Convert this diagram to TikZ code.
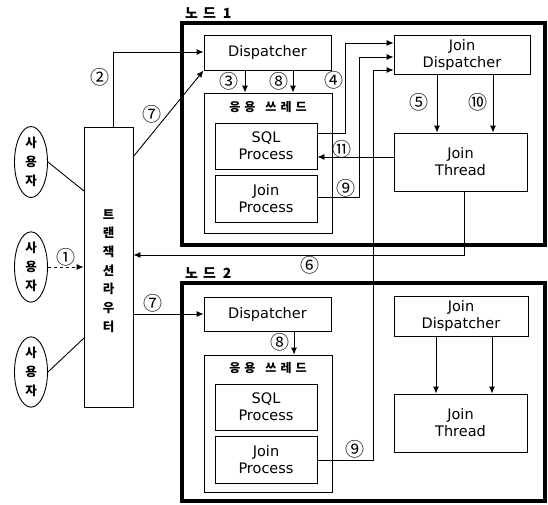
\documentclass[tikz,border=0pt]{standalone}
\usepackage{fontspec}
\setmainfont{DejaVu Sans}
\newfontfamily\kr{Noto Sans CJK KR}
\usetikzlibrary{arrows.meta,shapes.geometric,calc}
\begin{document}
\begin{tikzpicture}[x=1pt,y=-1pt,
 box/.style={draw,line width=0.9pt,rectangle,inner sep=0pt,align=center,font=\fontsize{14.5}{17}\selectfont},
 frame/.style={draw,line width=4pt,inner sep=0pt},
 user/.style={draw,ellipse,line width=0.9pt,inner sep=0pt,align=center,minimum width=33pt,font=\kr\bfseries\fontsize{12.5}{19}\selectfont},
 num/.style={font=\kr\fontsize{19}{19}\selectfont,inner sep=0pt},
 conn/.style={line width=0.9pt},
 arr/.style={conn,-{Latex[length=7pt,width=6pt]}},
 lbl/.style={font=\kr\bfseries\fontsize{14}{14}\selectfont,anchor=west,inner sep=0pt},
 kor/.style={font=\kr\bfseries\fontsize{12}{12}\selectfont,inner sep=0pt}]
\useasboundingbox (0,0) rectangle (548,504);

% frames
\node[frame,minimum width=363pt,minimum height=222pt] (n1) at (363.5,134) {};
\node[frame,minimum width=363pt,minimum height=218pt] (n2) at (363.5,392) {};
\node[lbl] (n1l) at (185,13) {노\hspace{5pt}드\hspace{7pt}1};
\node[lbl] (n2l) at (185,273) {노\hspace{5pt}드\hspace{7pt}2};

% users and router
\node[user,minimum height=71pt] (u1) at (31,162) {사\\용\\자};
\node[user,minimum height=67pt] (u2) at (31,267) {사\\용\\자};
\node[user,minimum height=70pt] (u3) at (31,372) {사\\용\\자};
\node[draw,line width=0.9pt,minimum width=49pt,minimum height=280pt,inner sep=0pt] (rt) at (108.5,267) {};
\node[align=center,inner sep=0pt,font=\kr\bfseries\fontsize{12.5}{18.7}\selectfont] (rtt) at (108.5,271) {트\\랜\\잭\\션\\라\\우\\터};

% node 1
\node[box,minimum width=127pt,minimum height=35pt] (d1) at (267.5,52.5) {Dispatcher};
\node[draw,line width=0.9pt,inner sep=0pt,minimum width=128pt,minimum height=140pt] (a1) at (268,163) {};
\node[kor] (a1l) at (268,107) {응\hspace{4pt}용\hspace{10pt}쓰\hspace{4pt}레\hspace{4pt}드};
\node[box,minimum width=102pt,minimum height=46pt] (s1) at (266,146) {SQL\\Process};
\node[box,minimum width=102pt,minimum height=47pt] (p1) at (266,198.5) {Join\\Process};
\node[box,minimum width=136pt,minimum height=39pt] (jd1) at (462,54.5) {Join\\Dispatcher};
\node[box,minimum width=133pt,minimum height=58pt] (jt1) at (460.5,162) {Join\\Thread};

% node 2
\node[box,minimum width=127pt,minimum height=34pt] (d2) at (267.5,314) {Dispatcher};
\node[draw,line width=0.9pt,inner sep=0pt,minimum width=128pt,minimum height=137pt] (a2) at (268,423.5) {};
\node[kor] (a2l) at (268,368) {응\hspace{4pt}용\hspace{10pt}쓰\hspace{4pt}레\hspace{4pt}드};
\node[box,minimum width=102pt,minimum height=46pt] (s2) at (266,407) {SQL\\Process};
\node[box,minimum width=102pt,minimum height=47pt] (p2) at (266,459.5) {Join\\Process};
\node[box,minimum width=134pt,minimum height=40pt] (jd2) at (461,316) {Join\\Dispatcher};
\node[box,minimum width=133pt,minimum height=58pt] (jt2) at (460.5,423) {Join\\Thread};

% named points
\coordinate (r1) at (84,191);
\coordinate (r3) at (84,338);
\coordinate (r7) at (133,157);
\coordinate (c2) at (113,52);
\coordinate (c4) at (345,43);
\coordinate (c9a) at (359,57);
\coordinate (c9b) at (373,70);
\coordinate (c6) at (464,255);

% user links
\draw[conn] (u1.east) -- (r1);
\draw[conn] (u3.east) -- (r3);
\draw[arr,dashed] (u2.east) -- (rt.west |- u2.east);

% router to dispatchers
\draw[arr] (rt.north -| c2) |- (d1.west |- c2);
\draw[arr] (r7) -- (d1.south west);
\draw[arr] (rt.east |- d2.west) -- (d2.west);

% dispatcher to app threads
\draw[arr] (d1.south -| 245,0) -- (a1.north -| 245,0);
\draw[arr] (d1.south -| 293,0) -- (a1.north -| 293,0);
\draw[arr] (d2.south -| 294,0) -- (a2.north -| 294,0);

% to join dispatcher
\draw[arr] (s1.east |- 0,133) -| (c4) -- (jd1.west |- c4);
\draw[arr] (p1.east |- 0,197) -| (c9a) -- (jd1.west |- c9a);
\draw[arr] (p2.east |- 0,460) -| (c9b) -- (jd1.west |- c9b);

% join thread to sql
\draw[arr] (jt1.west |- 0,157) -- (s1.east |- 0,157);

% join dispatcher to join thread
\draw[arr] (jd1.south -| 437,0) -- (jt1.north -| 437,0);
\draw[arr] (jd1.south -| 493,0) -- (jt1.north -| 493,0);
\draw[arr] (jd2.south -| 436,0) -- (jt2.north -| 436,0);
\draw[arr] (jd2.south -| 492,0) -- (jt2.north -| 492,0);

% join thread back to router
\draw[arr] (jt1.south -| c6) -- (c6) -- (rt.east |- c6);

% labels
\node[num] (l1) at (66,257) {①};
\node[num] (l2) at (100,77) {②};
\node[num] (l3) at (229,81) {③};
\node[num] (l4) at (334,80) {④};
\node[num] (l5) at (419,102) {⑤};
\node[num] (l6) at (310,265) {⑥};
\node[num] (l7a) at (152,114) {⑦};
\node[num] (l7b) at (153,303) {⑦};
\node[num] (l8a) at (279,81) {⑧};
\node[num] (l8b) at (280,342) {⑧};
\node[num] (l9a) at (346,188) {⑨};
\node[num] (l9b) at (355,449) {⑨};
\node[num] (l10) at (478,102) {⑩};
\node[num] (l11) at (342,149) {⑪};
\end{tikzpicture}
\end{document}
